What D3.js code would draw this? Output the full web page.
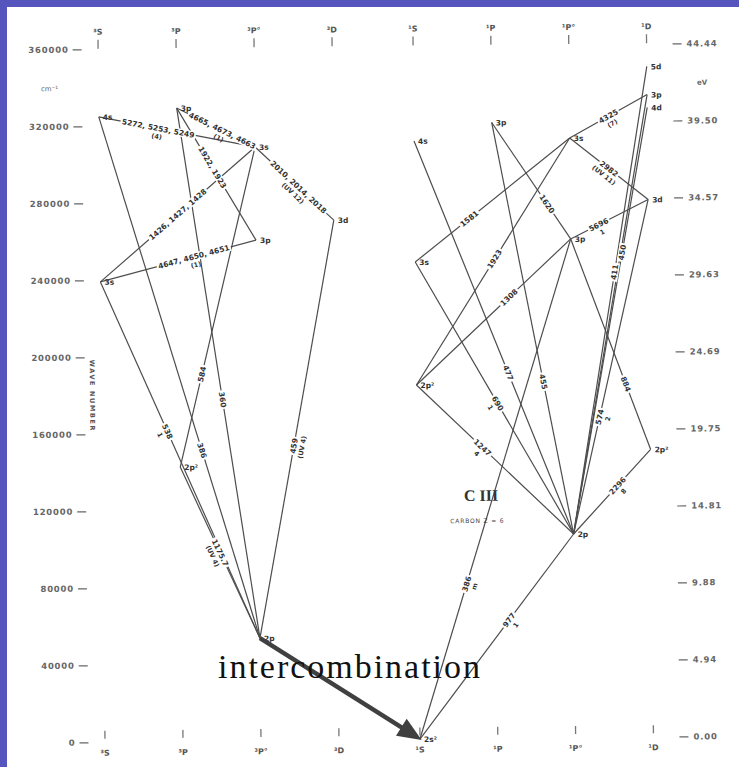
<!DOCTYPE html>
<html>
<head>
<meta charset="utf-8">
<script src="https://cdn.jsdelivr.net/npm/d3@7"></script>
<style>
  body { margin: 0; background: #5555bd; }
  svg { display: block; }
</style>
</head>
<body>
<svg id="chart"></svg>
<script>
// Axis ticks
const wavenumberTicks = [0, 40000, 80000, 120000, 160000, 200000, 240000, 280000, 320000, 360000];
const electronVoltTicks = [0, 4.94, 9.88, 14.81, 19.75, 24.69, 29.63, 34.57, 39.50, 44.44];

// term columns, triplets on the left and singlets on the right
const tripletTerms = ["³S", "³P", "³P°", "³D"];
const singletTerms = ["¹S", "¹P", "¹P°", "¹D"];

// [id, column, wave number (cm-1), configuration]
const tripletLevels = [
  ["t4s", "³S", 324800, "4s"],
  ["t3s", "³S", 239100, "3s"],
  ["t3pE", "³P", 329000, "3p"],
  ["t2p2", "³P", 142500, "2p²"],
  ["t3sO", "³P°", 308400, "3s"],
  ["t3p", "³P°", 260000, "3p"],
  ["t2p", "³P°", 53200, "2p"],
  ["t3d", "³D", 270000, "3d"]
];
const singletLevels = [
  ["s4s", "¹S", 310700, "4s"],
  ["s3s", "¹S", 247800, "3s"],
  ["s2p2S", "¹S", 183900, "2p²"],
  ["s2s2", "¹S", 0, "2s²"],
  ["s3pE", "¹P", 319900, "3p"],
  ["s3sO", "¹P°", 311400, "3s"],
  ["s3p", "¹P°", 259000, "3p"],
  ["s2p", "¹P°", 105700, "2p"],
  ["s5d", "¹D", 348200, "5d"],
  ["s3pD", "¹D", 333600, "3p"],
  ["s4d", "¹D", 326900, "4d"],
  ["s3d", "¹D", 279100, "3d"],
  ["s2p2D", "¹D", 149300, "2p²"]
];

// [upper, lower, wavelength label, multiplet note]
const tripletLines = [
  ["t4s", "t3sO", "5272, 5253, 5249", "(4)"],
  ["t3pE", "t3sO", "4665, 4673, 4663", "(1)"],
  ["t3sO", "t3d", "2010, 2014, 2018", "(UV 12)"],
  ["t3pE", "t3p", "1922, 1923", ""],
  ["t3sO", "t3s", "1426, 1427, 1428", ""],
  ["t3p", "t3s", "4647, 4650, 4651", "(1)"],
  ["t3s", "t2p", "538", "1"],
  ["t4s", "t2p", "386", ""],
  ["t3pE", "t2p", "360", ""],
  ["t3sO", "t2p2", "584", ""],
  ["t3d", "t2p", "459", "(UV 4)"],
  ["t2p2", "t2p", "1175.7", "(UV 4)"]
];
const singletLines = [
  ["s4s", "s2p", "477", ""],
  ["s3sO", "s3s", "1581", ""],
  ["s3s", "s2p", "690", "1"],
  ["s3pE", "s3p", "1620", ""],
  ["s3pE", "s2p", "455", ""],
  ["s3pD", "s3sO", "4325", "(7)"],
  ["s3sO", "s3d", "2982", "(UV 11)"],
  ["s3sO", "s2p2S", "1923", ""],
  ["s3d", "s3p", "5696", "1"],
  ["s3p", "s2p2S", "1308", ""],
  ["s3p", "s2s2", "386", "m"],
  ["s3p", "s2p2D", "884", ""],
  ["s5d", "s2p", "411", ""],
  ["s3pD", "s2p", "", ""],
  ["s4d", "s2p", "450", ""],
  ["s3d", "s2p", "574", "2"],
  ["s2p2D", "s2p", "2296", "8"],
  ["s2p2S", "s2p", "1247", "4"],
  ["s2p", "s2s2", "977", "1"]
];

// where along each line its label sits (0 = upper level)
const labelAt = {
  "t4s>t3sO": 0.38, "t3pE>t3sO": 0.58, "t3sO>t3d": 0.55, "t3pE>t3p": 0.45,
  "t3p>t3s": 0.4, "t3s>t2p": 0.42, "t4s>t2p": 0.64, "t3pE>t2p": 0.55,
  "t3sO>t2p2": 0.71, "t3d>t2p": 0.54, "t2p2>t2p": 0.5,
  "s4s>s2p": 0.59, "s3sO>s3s": 0.65, "s3s>s2p": 0.52, "s3pE>s3p": 0.7,
  "s3pE>s2p": 0.63, "s3sO>s2p2S": 0.49, "s3d>s3p": 0.64, "s3p>s2p2S": 0.4,
  "s3p>s2s2": 0.69, "s3p>s2p2D": 0.69, "s5d>s2p": 0.44, "s4d>s2p": 0.34,
  "s3d>s2p": 0.65, "s2p2D>s2p": 0.43, "s2p2S>s2p": 0.42, "s2p>s2s2": 0.42
};

const width = 739;
const height = 767;
const ink = "#4d4d4d";
const mono = "DejaVu Sans";

const svg = d3.select("#chart").attr("width", width).attr("height", height);
svg.append("rect").attr("x", 7).attr("y", 7)
  .attr("width", width - 7).attr("height", height - 7).attr("fill", "#ffffff");

// the scanned plate sits slightly tilted
const g = svg.append("g").attr("transform", "rotate(-0.57, 370, 390)");

const y = d3.scaleLinear().domain([0, 360000]).range([739.5, 46.5]);
const yEv = d3.scaleLinear().domain([0, 44.44]).range([739.5, 46.5]);
const xTriplet = d3.scalePoint().domain(tripletTerms).range([101.5, 335.5]);
const xSinglet = d3.scalePoint().domain(singletTerms).range([416.5, 650]);

// axes
function styleAxis(a) {
  a.select(".domain").remove();
  a.attr("font-family", mono).attr("font-size", 8.5).attr("font-weight", "bold");
  a.selectAll("line").attr("stroke", "#666").attr("stroke-width", 1.2);
  a.selectAll("text").attr("fill", "#666").attr("letter-spacing", 0.8);
}
g.append("g").attr("transform", "translate(85,0)")
  .call(d3.axisLeft(y).tickValues(wavenumberTicks).tickSize(9).tickPadding(4).tickFormat(d3.format("d")))
  .call(styleAxis);
g.append("g").attr("transform", "translate(676,0)")
  .call(d3.axisRight(yEv).tickValues(electronVoltTicks).tickSize(9).tickPadding(5).tickFormat(d3.format(".2f")))
  .call(styleAxis);

g.append("text").attr("x", 44).attr("y", 88).attr("font-family", mono)
  .attr("font-size", 7).attr("fill", "#666").text("cm⁻¹");
g.append("text").attr("x", 700).attr("y", 88).attr("font-family", mono)
  .attr("font-size", 7).attr("font-weight", "bold").attr("fill", "#666").text("eV");
g.append("text").attr("transform", "translate(90,357) rotate(90)")
  .attr("font-family", mono).attr("font-size", 6.5).attr("font-weight", "bold")
  .attr("letter-spacing", 1.6).attr("fill", "#555").text("WAVE NUMBER");

// column heads, top and bottom
const columns = tripletTerms.map(t => ({ term: t, x: xTriplet(t) }))
  .concat(singletTerms.map(t => ({ term: t, x: xSinglet(t) })));
[[32, 37, 46], [753, 728, 736]].forEach(([ty, l1, l2]) => {
  const cg = g.append("g").selectAll("g").data(columns).join("g");
  cg.append("line").attr("x1", d => d.x).attr("x2", d => d.x)
    .attr("y1", l1).attr("y2", l2).attr("stroke", "#777").attr("stroke-width", 1.3);
  cg.append("text").attr("x", d => d.x).attr("y", ty).attr("text-anchor", "middle")
    .attr("font-family", mono).attr("font-size", 8).attr("font-weight", "bold")
    .attr("fill", "#555").text(d => d.term);
});

// level positions
const pos = {};
tripletLevels.forEach(([id, col, e, lab]) => { pos[id] = { x: xTriplet(col), y: y(e), lab }; });
singletLevels.forEach(([id, col, e, lab]) => { pos[id] = { x: xSinglet(col), y: y(e), lab }; });

// transitions
const allLines = tripletLines.concat(singletLines);
g.append("g").selectAll("line").data(allLines).join("line")
  .attr("x1", d => pos[d[0]].x).attr("y1", d => pos[d[0]].y)
  .attr("x2", d => pos[d[1]].x).attr("y2", d => pos[d[1]].y)
  .attr("stroke", ink).attr("stroke-width", 1.2);

// wavelength labels on the lines
const labels = g.append("g").attr("font-family", mono).attr("font-size", 7.5)
  .attr("font-weight", "bold").attr("fill", "#333");
allLines.forEach(([a, b, label, note]) => {
  if (!label) return;
  const p = pos[a], q = pos[b];
  const t = labelAt[a + ">" + b] ?? 0.5;
  const mx = p.x + (q.x - p.x) * t;
  const my = p.y + (q.y - p.y) * t;
  let ang = Math.atan2(q.y - p.y, q.x - p.x) * 180 / Math.PI;
  if (ang > 90) ang -= 180;
  if (ang < -90) ang += 180;
  const lg = labels.append("g").attr("transform", `translate(${mx},${my}) rotate(${ang})`);
  const bg = lg.append("rect").attr("fill", "#fff");
  const txt = lg.append("text").attr("text-anchor", "middle").attr("dy", "0.35em").text(label);
  const w = txt.node().getComputedTextLength();
  bg.attr("x", -w / 2 - 1.5).attr("y", -4).attr("width", w + 3).attr("height", 8);
  if (note) {
    lg.append("text").attr("text-anchor", "middle").attr("y", 10.5)
      .attr("font-size", 6.5).text(note);
  }
});

// level names
g.append("g").selectAll("text").data(Object.values(pos)).join("text")
  .attr("x", d => d.x + 4).attr("y", d => d.y + 3)
  .attr("font-family", mono).attr("font-size", 7.5).attr("font-weight", "bold")
  .attr("fill", "#333").text(d => d.lab);

// element name
g.append("text").attr("x", 480).attr("y", 502).attr("text-anchor", "middle")
  .attr("font-family", "Liberation Serif").attr("font-weight", "bold")
  .attr("font-size", 16).attr("fill", "#333").text("C III");
g.append("text").attr("x", 476).attr("y", 524).attr("text-anchor", "middle")
  .attr("font-family", mono).attr("font-size", 6).attr("letter-spacing", 0.8)
  .attr("fill", "#444").text("CARBON  Z = 6");

// intercombination annotation
svg.append("text").attr("x", 218).attr("y", 678)
  .attr("font-family", "Liberation Serif").attr("font-size", 34)
  .attr("textLength", 262).attr("lengthAdjust", "spacing")
  .attr("fill", "#111").text("intercombination");

const from = pos.t2p, to = pos.s2s2;
const dx = to.x - from.x, dy = to.y - from.y;
const len = Math.hypot(dx, dy);
const ux = dx / len, uy = dy / len;
const tip = { x: to.x + ux * 2, y: to.y + uy * 2 };
const headLen = 24, headHalf = 10;
const base = { x: tip.x - ux * headLen, y: tip.y - uy * headLen };
g.append("line").attr("x1", from.x).attr("y1", from.y)
  .attr("x2", base.x + ux * 3).attr("y2", base.y + uy * 3)
  .attr("stroke", "#404040").attr("stroke-width", 4.5);
g.append("path")
  .attr("d", `M${tip.x},${tip.y}L${base.x - uy * headHalf},${base.y + ux * headHalf}L${base.x + uy * headHalf},${base.y - ux * headHalf}Z`)
  .attr("fill", "#404040");
</script>
</body>
</html>
